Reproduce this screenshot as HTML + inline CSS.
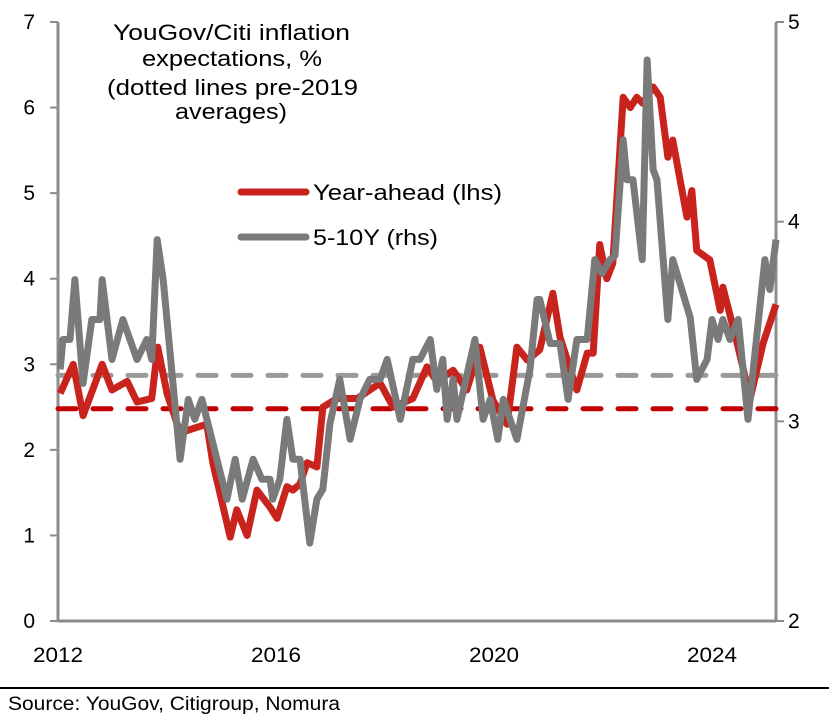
<!DOCTYPE html>
<html><head><meta charset="utf-8"><style>
body{margin:0;background:#fff;font-family:"Liberation Sans",Arial,sans-serif;}
svg text{font-family:"Liberation Sans",Arial,sans-serif;}
</style></head><body>
<svg id="chart" width="829" height="721" viewBox="0 0 829 721" xmlns="http://www.w3.org/2000/svg">
<g id="axes"></g><g id="series"></g>
<g font-size="22" fill="#000">
<text x="113" y="40" textLength="237" lengthAdjust="spacingAndGlyphs">YouGov/Citi inflation</text>
<text x="142" y="66" textLength="180" lengthAdjust="spacingAndGlyphs">expectations, %</text>
<text x="107" y="95" textLength="251" lengthAdjust="spacingAndGlyphs">(dotted lines pre-2019</text>
<text x="175" y="119" textLength="112" lengthAdjust="spacingAndGlyphs">averages)</text>
</g>
<g>
<line x1="241" y1="192" x2="306" y2="192" stroke="#c8231d" stroke-width="7" stroke-linecap="round"/>
<text x="313" y="200" font-size="22" textLength="189" lengthAdjust="spacingAndGlyphs">Year-ahead (lhs)</text>
<line x1="241" y1="237" x2="306" y2="237" stroke="#7a7a7a" stroke-width="7" stroke-linecap="round"/>
<text x="313" y="245" font-size="22" textLength="125" lengthAdjust="spacingAndGlyphs">5-10Y (rhs)</text>
</g>
<line x1="0" y1="688" x2="829" y2="688" stroke="#000" stroke-width="2"/>
<text x="8" y="710" font-size="19" textLength="332" lengthAdjust="spacingAndGlyphs">Source: YouGov, Citigroup, Nomura</text>
</svg>
<script>
const leftTicks=[0,1,2,3,4,5,6,7];
const rightTicks=[2,3,4,5];
const xTicks=[2012,2016,2020,2024];
const redAvg=2.48;
const grayAvg=3.23;
const redYears=[2012.04,2012.28,2012.46,2012.81,2012.99,2013.27,2013.45,2013.72,2013.83,2014.0,2014.24,2014.73,2014.84,2015.16,2015.28,2015.47,2015.65,2015.89,2016.02,2016.2,2016.31,2016.44,2016.57,2016.75,2016.86,2017.12,2017.49,2017.91,2018.15,2018.51,2018.77,2018.95,2019.25,2019.5,2019.74,2019.98,2020.24,2020.42,2020.61,2020.84,2021.08,2021.21,2021.52,2021.71,2021.82,2021.94,2022.07,2022.18,2022.37,2022.5,2022.62,2022.73,2022.92,2023.05,2023.19,2023.28,2023.54,2023.63,2023.72,2023.96,2024.15,2024.2,2024.46,2024.7,2024.94,2025.19];
const redValues=[2.66,3.0,2.4,3.0,2.7,2.8,2.56,2.6,3.2,2.66,2.2,2.3,1.85,0.98,1.3,1.0,1.53,1.33,1.2,1.57,1.53,1.6,1.85,1.8,2.5,2.6,2.6,2.78,2.5,2.6,2.97,2.8,2.93,2.7,3.2,2.58,2.3,3.2,3.05,3.17,3.83,3.32,2.7,3.13,3.13,4.4,4.0,4.18,6.12,6.0,6.12,6.05,6.24,6.12,5.42,5.62,4.72,5.03,4.33,4.22,3.63,3.9,3.25,2.6,3.25,3.7];
const grayYears=[2012.04,2012.09,2012.22,2012.31,2012.46,2012.62,2012.77,2012.81,2012.99,2013.19,2013.45,2013.63,2013.72,2013.82,2013.93,2014.24,2014.39,2014.51,2014.64,2015.1,2015.25,2015.38,2015.58,2015.74,2015.89,2015.94,2016.07,2016.2,2016.31,2016.44,2016.62,2016.75,2016.86,2016.99,2017.17,2017.36,2017.54,2017.72,2017.91,2018.04,2018.28,2018.51,2018.64,2018.83,2018.95,2019.06,2019.14,2019.25,2019.32,2019.65,2019.8,2019.93,2020.07,2020.17,2020.42,2020.66,2020.79,2020.84,2021.03,2021.21,2021.36,2021.52,2021.71,2021.85,2021.98,2022.13,2022.22,2022.37,2022.44,2022.55,2022.72,2022.81,2022.92,2022.99,2023.19,2023.28,2023.6,2023.72,2023.91,2024.0,2024.11,2024.2,2024.33,2024.48,2024.66,2024.97,2025.06,2025.19];
const grayValues=[3.26,3.41,3.41,3.71,3.19,3.51,3.51,3.71,3.31,3.51,3.31,3.41,3.31,3.91,3.71,2.81,3.11,3.01,3.11,2.61,2.81,2.61,2.81,2.71,2.71,2.61,2.71,3.01,2.81,2.81,2.39,2.61,2.66,2.99,3.21,2.91,3.11,3.21,3.21,3.31,3.01,3.31,3.31,3.41,3.16,3.31,3.01,3.21,3.01,3.41,3.01,3.11,2.91,3.11,2.91,3.26,3.61,3.61,3.39,3.39,3.11,3.41,3.41,3.81,3.74,3.81,3.83,4.41,4.21,4.21,3.81,4.81,4.26,4.21,3.51,3.81,3.52,3.21,3.31,3.51,3.41,3.51,3.41,3.51,3.01,3.81,3.66,3.91];

const NS='http://www.w3.org/2000/svg';
const X0=58,X1=776,YB=621,YT=22;
const xs=y=>X0+(y-2012)*54.5;
const yl=v=>YB-(v/7)*(YB-YT);
const yr=v=>YB-((v-2)/3)*(YB-YT);
function mk(tag,attrs,parent){const e=document.createElementNS(NS,tag);for(const k in attrs)e.setAttribute(k,attrs[k]);parent.appendChild(e);return e;}
const axes=document.getElementById('axes'),series=document.getElementById('series');
let e;
e=mk('line',{x1:X0,y1:YT,x2:X0,y2:YB,stroke:'#8c8c8c','stroke-width':3},axes);


e=mk('line',{x1:X1,y1:YT,x2:X1,y2:YB,stroke:'#8c8c8c','stroke-width':3},axes);


e=mk('line',{x1:X0,y1:YB,x2:X1,y2:YB,stroke:'#8c8c8c','stroke-width':3},axes);


leftTicks.forEach(v=>{
 e=mk('line',{x1:X0-8,y1:yl(v),x2:X0,y2:yl(v),stroke:'#8c8c8c','stroke-width':2},axes);
 
 
 e=mk('text',{x:35,y:yl(v)+7,'font-size':21,'text-anchor':'end'},axes);e.textContent=v;
 
 
});
rightTicks.forEach(v=>{
 e=mk('line',{x1:X1,y1:yr(v),x2:X1+8,y2:yr(v),stroke:'#8c8c8c','stroke-width':2},axes);
 
 
 e=mk('text',{x:788,y:yr(v)+7,'font-size':21},axes);e.textContent=v;
 
 
});
xTicks.forEach(v=>{
 e=mk('text',{x:xs(v),y:662,'font-size':21,'text-anchor':'middle',textLength:50,lengthAdjust:'spacingAndGlyphs'},axes);e.textContent=v;
 
 
});
e=mk('line',{x1:X0,y1:yr(grayAvg),x2:X1,y2:yr(grayAvg),stroke:'#9a9a9a','stroke-width':5,'stroke-dasharray':'18 17','stroke-linecap':'round'},series);


e=mk('line',{x1:X0,y1:yl(redAvg),x2:X1,y2:yl(redAvg),stroke:'#c00000','stroke-width':5,'stroke-dasharray':'18 17','stroke-linecap':'round'},series);


e=mk('polyline',{points:redYears.map((y,i)=>Math.min(xs(y),X1)+','+yl(redValues[i])).join(' '),fill:'none',stroke:'#c8231d','stroke-width':7,'stroke-linejoin':'round'},series);


e=mk('polyline',{points:grayYears.map((y,i)=>Math.min(xs(y),X1)+','+yr(grayValues[i])).join(' '),fill:'none',stroke:'#7a7a7a','stroke-width':7,'stroke-linejoin':'round'},series);


</script>
</body></html>
